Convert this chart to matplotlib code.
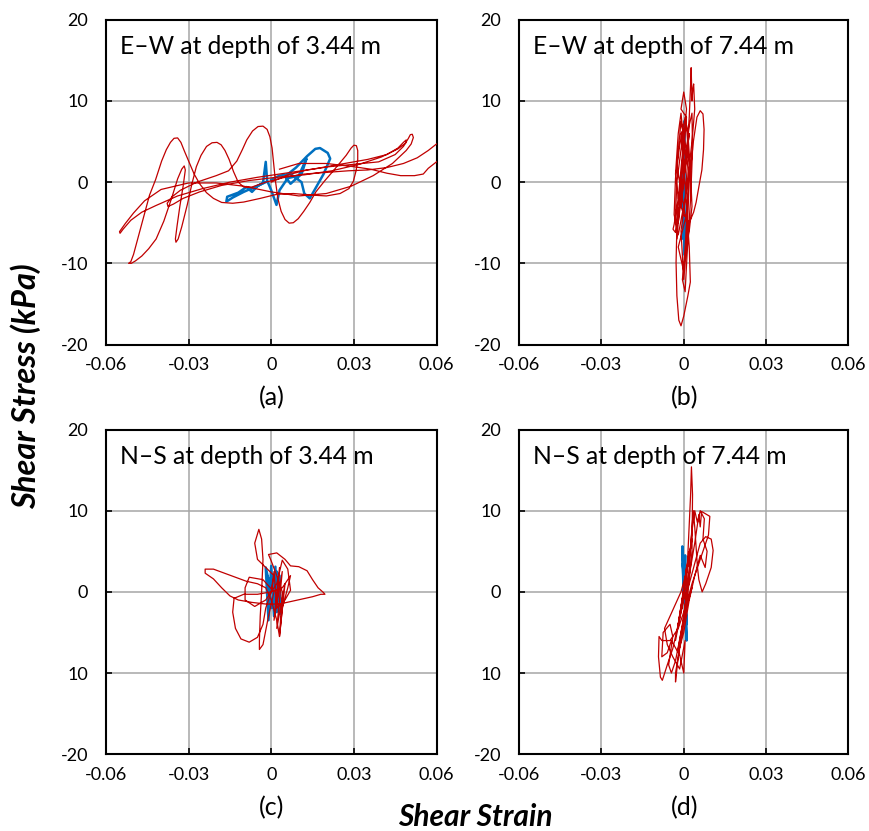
import numpy as np
import matplotlib
matplotlib.use("Agg")
import matplotlib.pyplot as plt

plt.rcParams['font.family'] = ['Lato', 'DejaVu Sans']

RED = '#C00000'
BLUE = '#0070C0'

# ---------------- data (strain, stress kPa) ----------------
xticks = [-0.06, -0.03, 0, 0.03, 0.06]
xtick_labels = ['-0.06', '-0.03', '0', '0.03', '0.06']
yticks = [20, 10, 0, -10, -20]
ytick_labels_top = ['20', '10', '0', '-10', '-20']
ytick_labels_bottom = ['20', '10', '0', '10', '-20']

titles = ['E\u2013W at depth of 3.44 m', 'E\u2013W at depth of 7.44 m',
          'N\u2013S at depth of 3.44 m', 'N\u2013S at depth of 7.44 m']
panel_labels = ['(a)', '(b)', '(c)', '(d)']

ew344_red = [
    (0.000, 0.0), (0.006, 0.9), (0.013, 1.5), (0.021, 1.9), (0.030, 2.2), (0.039, 2.5),
    (0.045, 3.4), (0.048, 4.4), (0.0498, 5.4), (0.0505, 5.85), (0.0512, 5.9), (0.0516, 5.5),
    (0.0508, 4.7), (0.049, 3.9), (0.044, 2.3), (0.037, 0.8), (0.029, -0.5), (0.020, -1.4),
    (0.010, -1.7), (0.000, -1.2), (-0.010, -0.5), (-0.020, -0.1), (-0.030, -0.1),
    (-0.040, -0.9), (-0.046, -2.3), (-0.050, -3.8), (-0.053, -5.1), (-0.0551, -6.1),
    (-0.0549, -6.3), (-0.0538, -5.8), (-0.051, -4.7), (-0.047, -3.7), (-0.042, -2.9),
    (-0.034, -1.7), (-0.025, -0.8), (-0.015, 0.0), (-0.005, 0.6), (0.005, 1.1),
    (0.015, 1.6), (0.025, 2.2), (0.035, 2.8), (0.042, 3.4), (0.046, 4.2), (0.048, 4.9),
    (0.049, 5.2), (0.0488, 4.8), (0.046, 4.1), (0.040, 3.1), (0.032, 2.2), (0.022, 1.4),
    (0.012, 0.9), (0.002, 0.6), (-0.008, 0.2), (-0.018, -0.4), (-0.026, -1.2),
    (-0.032, -2.0), (-0.0355, -2.7), (-0.0375, -3.0), (-0.0378, -2.6), (-0.036, -1.8),
    (-0.033, -1.0), (-0.027, 0.0), (-0.020, 0.8), (-0.0155, 1.4), (-0.0125, 2.6),
    (-0.0105, 4.0), (-0.0089, 5.2), (-0.0068, 6.3), (-0.0048, 6.85), (-0.0030, 6.9),
    (-0.0015, 6.5), (-0.0005, 5.6), (0.0003, 4.2), (0.0008, 2.5), (0.0015, 0.2),
    (0.0024, -2.0), (0.0036, -3.6), (0.0050, -4.6), (0.0065, -5.05), (0.0080, -5.0),
    (0.0098, -4.5), (0.0118, -3.6), (0.0140, -2.5), (0.0162, -1.2), (0.0195, 0.2),
    (0.0223, 1.3), (0.0250, 2.4), (0.0272, 3.3), (0.0290, 4.2), (0.0300, 4.55),
    (0.0309, 4.5), (0.0314, 3.9), (0.0314, 2.8), (0.0308, 1.4), (0.0298, 0.1),
    (0.0282, -0.8), (0.025, -1.4), (0.020, -1.7), (0.015, -1.6), (0.008, -1.4),
    (0.002, -1.5), (-0.004, -2.0), (-0.010, -2.45), (-0.014, -2.6), (-0.018, -2.5),
    (-0.021, -2.0), (-0.0235, -1.3), (-0.026, -0.2), (-0.028, 1.0), (-0.030, 2.6),
    (-0.0315, 3.8), (-0.0328, 4.9), (-0.0340, 5.45), (-0.0353, 5.4), (-0.0366, 4.9),
    (-0.0381, 4.0), (-0.0398, 2.6), (-0.0420, 0.3), (-0.0442, -1.6), (-0.0465, -4.5),
    (-0.0485, -7.0), (-0.0500, -8.9), (-0.0510, -9.8), (-0.0518, -10.0), (-0.0508, -10.0),
    (-0.0493, -9.7), (-0.0470, -9.1), (-0.0445, -8.2), (-0.0418, -7.0), (-0.0390, -4.8),
    (-0.0362, -2.0), (-0.0340, 0.4), (-0.0325, 1.6), (-0.0316, 2.0), (-0.0312, 1.5),
    (-0.0320, -0.5), (-0.0332, -3.0), (-0.0342, -5.4), (-0.0348, -7.0), (-0.0346, -7.4),
    (-0.0338, -7.0), (-0.0325, -5.5), (-0.0305, -2.8), (-0.0288, -0.2), (-0.0272, 1.9),
    (-0.0255, 3.3), (-0.0235, 4.4), (-0.0215, 4.85), (-0.0197, 4.9), (-0.0182, 4.6),
    (-0.0168, 3.9), (-0.0153, 2.8), (-0.0137, 1.3), (-0.0120, 0.0), (-0.0100, -0.6),
    (-0.007, -0.6), (-0.002, 0.0), (0.005, 0.6), (0.012, 1.0), (0.020, 1.2), (0.028, 1.4),
    (0.035, 1.5), (0.042, 1.8), (0.048, 2.3), (0.053, 3.0), (0.057, 3.9), (0.060, 4.7),
    (0.064, 5.0), (0.066, 4.0), (0.064, 3.0), (0.060, 2.5), (0.057, 1.7), (0.0552, 1.0),
    (0.052, 0.8), (0.047, 0.8), (0.042, 1.1), (0.036, 1.6), (0.030, 1.9), (0.020, 2.3),
    (0.010, 2.3), (0.003, 1.6),
]
ew344_blue = [
    (-0.002, 0.0), (-0.006, -0.6), (-0.010, -1.2), (-0.014, -1.9), (-0.0163, -2.4),
    (-0.0160, -1.8), (-0.012, -1.3), (-0.009, -0.6), (-0.007, -1.2), (-0.005, -0.5),
    (-0.003, -0.1), (-0.002, 2.5), (-0.0015, 0.2), (0.000, -1.0), (0.0019, -2.8),
    (0.003, -1.0), (0.006, 0.5), (0.010, 0.8), (0.0128, 2.9), (0.011, 1.0), (0.007, -0.2),
    (0.005, 0.7), (0.009, 1.8), (0.013, 3.2), (0.0160, 4.1), (0.0177, 4.2), (0.0205, 3.6),
    (0.0214, 2.9), (0.019, 1.0), (0.016, -0.8), (0.014, -2.0), (0.012, -1.4), (0.011, 0.0),
    (0.007, 1.0), (0.003, 0.8), (0.000, 0.3),
]

ew744_red = [
    (0.000, 0.0), (0.001, 4.0), (-0.001, -3.0), (0.002, 6.0), (-0.002, -5.0), (0.001, 8.0),
    (-0.001, 9.0), (0.000, 11.1), (0.001, 9.0), (-0.002, -2.0), (-0.0035, -5.2),
    (-0.0039, -5.8), (-0.003, -6.2), (-0.001, -2.0), (0.001, 3.0), (0.002, 8.0),
    (0.0025, 12.0), (0.0027, 14.1), (0.003, 10.0), (0.0033, 11.5), (0.0036, 12.1),
    (0.004, 9.0), (0.003, 5.0), (0.001, -1.0), (-0.001, -6.0), (0.000, -12.0),
    (0.001, -8.0), (0.002, 0.0), (0.0035, 5.0), (0.0048, 8.0), (0.0060, 8.8),
    (0.0070, 8.4), (0.0074, 6.5), (0.0072, 4.0), (0.0066, 1.5), (0.0058, 0.0),
    (0.0045, -2.5), (0.0036, -3.7), (0.002, -5.0), (0.000, -4.0), (-0.002, -2.0),
    (-0.003, 1.0), (-0.002, 6.0), (-0.001, 8.5), (0.000, 5.0), (-0.001, 0.0),
    (-0.0024, -4.0), (-0.0028, -9.9), (-0.0025, -14.0), (-0.0018, -17.0),
    (-0.0010, -17.7), (0.000, -16.5), (0.0015, -14.0), (0.0024, -12.3), (0.002, -8.0),
    (0.001, -3.0), (0.000, 2.0), (-0.001, 6.0), (0.001, 7.0), (0.002, 2.0),
    (0.001, -4.0), (-0.002, -8.0), (0.000, -11.0), (0.001, -5.0), (-0.0025, 2.0),
    (-0.001, 7.5), (0.0015, 3.0), (0.0005, -2.0), (-0.002, -6.5), (-0.0035, -4.0),
    (-0.003, 0.5), (-0.0015, 4.5), (0.0005, 8.0), (0.0015, 6.0), (0.0025, 1.0),
    (0.003, -3.0), (0.002, -6.0), (0.0005, -9.0), (-0.0005, -12.0), (0.0005, -13.5),
    (0.0012, -9.0), (0.0025, -2.0), (0.0032, 4.0), (0.003, 8.5), (0.002, 7.0),
    (0.000, 1.0), (-0.0015, -3.0), (-0.0025, -7.0), (-0.003, -4.0), (-0.0025, 0.0),
    (-0.001, 4.0), (0.000, 6.5), (0.0005, 3.0), (0.000, 0.0),
]
ew744_blue = [
    (0.000, 0.0), (0.0002, 7.5), (0.000, -2.0), (0.0004, -9.0), (0.000, 4.0),
    (-0.0002, -7.0), (0.0002, 3.0),
]

ns344_red = [
    (0.000, 0.0), (0.001, 2.5), (0.002, -2.0), (0.003, 3.0), (0.001, -3.5), (0.004, 2.5),
    (0.002, -4.5), (0.005, 1.0), (0.003, -5.5), (0.004, 0.0), (0.002, 2.0), (0.000, 3.8),
    (-0.001, 4.6), (0.002, 4.8), (0.005, 4.0), (0.007, 3.2), (0.010, 3.1), (0.013, 2.6),
    (0.015, 1.5), (0.017, 0.5), (0.019, -0.1), (0.0195, -0.3), (0.018, -0.3),
    (0.015, -0.6), (0.011, -0.9), (0.007, -1.2), (0.003, -1.5), (-0.002, -1.5),
    (-0.007, -1.3), (-0.012, -1.0), (-0.015, -0.5), (-0.018, 0.5), (-0.021, 1.6),
    (-0.024, 2.3), (-0.024, 2.8), (-0.021, 2.8), (-0.017, 2.3), (-0.013, 1.8),
    (-0.009, 1.3), (-0.005, 1.0), (-0.002, 0.5), (0.000, -1.0), (0.002, -3.5),
    (0.003, -5.5), (0.004, -2.0), (0.006, 0.5), (0.007, 2.0), (0.004, 0.5), (0.000, 0.0),
    (-0.005, -0.3), (-0.010, -0.3), (-0.0135, -0.8), (-0.014, -2.5), (-0.013, -4.5),
    (-0.011, -5.8), (-0.008, -6.2), (-0.005, -5.6), (-0.003, -4.0), (-0.002, -2.0),
    (0.000, 0.0), (0.001, 2.0), (-0.002, 3.0), (-0.005, 4.0), (-0.006, 6.0),
    (-0.0045, 7.7), (-0.0035, 6.5), (-0.003, 4.0), (-0.0035, 0.0), (-0.004, -3.0),
    (-0.0043, -6.0), (-0.0043, -7.1), (-0.003, -6.5), (-0.001, -3.0), (0.001, 0.0),
    (-0.003, 1.5), (-0.008, 1.8), (-0.0095, 0.5), (-0.0095, -1.0), (-0.006, -1.8),
    (-0.002, -1.0), (0.002, 1.0), (0.004, 3.9), (0.006, 2.8), (0.007, 0.2),
    (0.005, -1.0), (0.002, -2.0),
]
ns344_blue = [
    (0.000, 0.0), (-0.002, 3.0), (-0.001, -3.5), (0.000, 3.2), (0.001, -3.0),
    (0.0015, 3.1), (0.002, -2.5), (0.003, 2.0), (0.0033, -2.7), (-0.0015, 2.0),
    (0.000, -2.0), (0.002, 2.5), (0.001, 0.0),
]

ns744_red = [
    (0.000, 0.0), (0.001, 3.0), (-0.001, -2.5), (0.002, 5.0), (-0.002, -4.0), (0.003, 6.5),
    (-0.003, -6.0), (0.001, 1.0), (0.0025, 12.0), (0.0028, 15.4), (0.0032, 12.0),
    (0.003, 5.0), (0.001, -2.0), (-0.001, -6.0), (-0.003, -10.0), (-0.003, -11.1),
    (-0.002, -8.0), (0.000, -3.0), (0.002, 2.0), (0.004, 6.0), (0.0055, 9.5), (0.006, 8.0),
    (0.0065, 9.9), (0.008, 9.6), (0.0095, 9.3), (0.009, 7.0), (0.007, 5.0), (0.005, 3.0),
    (0.003, 1.0), (0.001, -1.5), (-0.002, -4.5), (-0.005, -6.0), (-0.008, -6.0),
    (-0.009, -5.5), (-0.0092, -8.0), (-0.0085, -10.5), (-0.0078, -10.9), (-0.006, -9.0),
    (-0.004, -7.0), (-0.002, -4.0), (0.000, -1.0), (0.002, 1.0), (0.004, 3.5),
    (0.006, 6.0), (0.008, 6.8), (0.010, 6.5), (0.0107, 5.1), (0.010, 3.0), (0.008, 1.0),
    (0.0067, 0.0), (0.0055, 1.5), (0.005, 3.0), (0.0045, 5.5), (0.004, 8.0),
    (0.0035, 10.0), (0.003, 8.0), (0.002, 3.0), (0.000, -3.0), (-0.002, -7.0),
    (0.000, -10.0), (0.0005, -6.0), (-0.0015, -9.5), (-0.004, -8.0), (-0.006, -6.5),
    (-0.007, -4.5), (-0.005, -3.0), (-0.003, -1.5), (-0.001, 0.0), (0.001, 2.5),
    (0.002, 4.0), (0.003, 7.5), (0.004, 10.0), (0.005, 8.5), (0.006, 10.0),
    (0.0075, 9.0), (0.007, 6.5), (0.0085, 5.0), (0.0078, 3.0), (0.006, 4.5),
    (0.004, 2.0), (0.002, -1.0), (0.000, -5.0), (-0.002, -7.5), (-0.0045, -6.0),
    (-0.006, -7.5), (-0.008, -8.0), (-0.0075, -5.0), (-0.005, -4.0), (-0.004, -5.5),
    (-0.0055, -9.0), (-0.0045, -10.0), (-0.003, -8.5), (-0.001, -5.0), (0.001, -2.0),
    (0.003, 0.5),
]
ns744_blue = [
    (0.000, 0.0), (-0.0005, 5.6), (0.000, -1.0), (0.0005, 4.5), (0.001, -6.0),
    (0.000, 2.0), (0.001, -4.0), (-0.0003, 3.5), (0.0008, -3.0), (0.0003, 1.0),
]

panels = [
    (ew344_red, ew344_blue),
    (ew744_red, ew744_blue),
    (ns344_red, ns344_blue),
    (ns744_red, ns744_blue),
]

# ---------------- figure ----------------
fig = plt.figure(figsize=(8.7, 8.31), dpi=100)
W, H = 870, 831
boxes = [(106, 19.8, 436.5, 344.5), (519, 19.8, 848.5, 344.5),
         (106, 429.5, 436.5, 754.2), (519, 429.5, 848.5, 754.2)]

for i, ((red, blue), (x0, y0, x1, y1)) in enumerate(zip(panels, boxes)):
    ax = fig.add_axes([x0 / W, 1 - y1 / H, (x1 - x0) / W, (y1 - y0) / H])
    ax.set_xlim(-0.06, 0.06)
    ax.set_ylim(-20, 20)
    ax.grid(True, color='#A6A6A6', lw=1.1, zorder=0)
    r = np.array(red)
    b = np.array(blue)
    ax.plot(b[:, 0], b[:, 1], color=BLUE, lw=1.8, zorder=2, solid_joinstyle='round')
    ax.plot(r[:, 0], r[:, 1], color=RED, lw=0.9, zorder=3, solid_joinstyle='round')
    ax.set_xticks(xticks)
    ax.set_xticklabels(xtick_labels)
    ax.set_yticks(yticks)
    ax.set_yticklabels(ytick_labels_top if i < 2 else ytick_labels_bottom)
    ax.tick_params(direction='in', length=4.5, width=1.2, labelsize=13, colors='black',
                   top=False, right=False)
    ax.tick_params(axis='y', pad=13)
    ax.tick_params(axis='x', pad=9)
    for s in ax.spines.values():
        s.set_color('black')
        s.set_linewidth(1.5)
    ax.set_axisbelow(True)
    ax.text(0.042, 0.918, titles[i], transform=ax.transAxes, fontsize=17.7,
            va='center', ha='left', color='black')
    fig.text(((x0 + x1) / 2 + 0.5) / W, 1 - (y1 + 53) / H, panel_labels[i],
             ha='center', va='center', fontsize=18)

fig.text(475 / W, 1 - 817 / H, 'Shear Strain', ha='center', va='center',
         fontsize=21.5, fontweight='bold', style='italic')
fig.text(26 / W, 1 - 386 / H, 'Shear Stress (kPa)', ha='center', va='center',
         rotation=90, fontsize=23.5, fontweight='bold', style='italic')

fig.savefig('out.png', dpi=100)
